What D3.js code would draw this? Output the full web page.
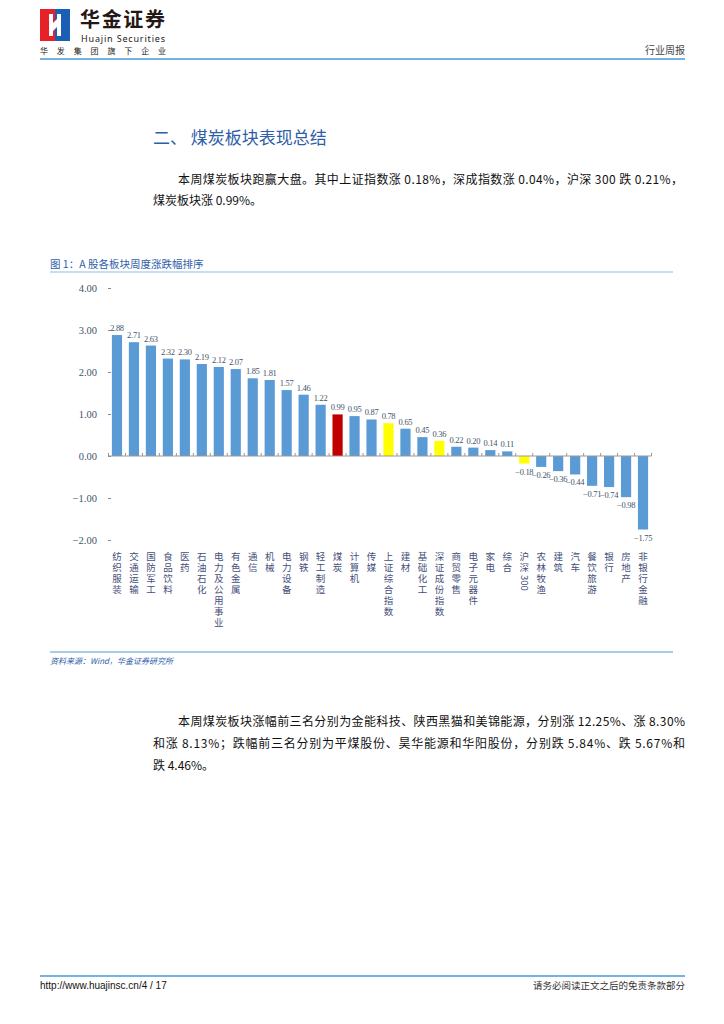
<!DOCTYPE html>
<html>
<head>
<meta charset="utf-8">
<script src="https://cdn.jsdelivr.net/npm/d3@7"></script>
<style>
  body { margin: 0; background: #fff; }
  svg { display: block; font-family: "Noto Sans CJK SC", "Noto Sans", sans-serif; }
</style>
</head>
<body>
<div id="page"></div>
<script>
// 板块周度涨跌幅 (%)
var categories = ["纺织服装","交通运输","国防军工","食品饮料","医药","石油石化","电力及公用事业","有色金属",
  "通信","机械","电力设备","钢铁","轻工制造","煤炭","计算机","传媒","上证综合指数","建材","基础化工",
  "深证成份指数","商贸零售","电子元器件","家电","综合","沪深300","农林牧渔","建筑","汽车","餐饮旅游",
  "银行","房地产","非银行金融"];
var values = [2.88,2.71,2.63,2.32,2.30,2.19,2.12,2.07,1.85,1.81,1.57,1.46,1.22,0.99,0.95,0.87,0.78,0.65,0.45,
  0.36,0.22,0.20,0.14,0.11,-0.18,-0.26,-0.36,-0.44,-0.71,-0.74,-0.98,-1.75];
var focusSector = "煤炭";
var indexNames = ["上证综合指数","深证成份指数","沪深300"];
var yTicks = [-2,-1,0,1,2,3,4];

var W = 724, H = 1024;
var svg = d3.select("#page").append("svg").attr("width", W).attr("height", H);

// ---- header ----
var logo = svg.append("g");
logo.append("rect").attr("x",40).attr("y",9).attr("width",15).attr("height",32).attr("fill","#e6212a");
logo.append("rect").attr("x",55).attr("y",9).attr("width",15).attr("height",32).attr("fill","#1a5fb4");
logo.append("path").attr("d","M49,14 L53,14 L53,23 L57,19 L57,14 L61,14 L61,36 L57,36 L57,27 L53,31 L53,36 L49,36 Z").attr("fill","#fff");
svg.append("text").attr("x",80).attr("y",27).attr("font-size",20).attr("font-weight","bold")
  .attr("fill","#231815").attr("textLength",85).text("华金证券");
svg.append("text").attr("x",81).attr("y",42).attr("font-size",9).attr("fill","#231815")
  .style("font-family","Noto Sans").attr("textLength",84).text("Huajin Securities");
svg.append("text").attr("x",40).attr("y",54).attr("font-size",8).attr("fill","#231815")
  .attr("textLength",126).attr("lengthAdjust","spacing").text("华发集团旗下企业");
svg.append("text").attr("x",685).attr("y",54).attr("font-size",10).attr("fill","#444")
  .attr("text-anchor","end").text("行业周报");
svg.append("line").attr("x1",40).attr("x2",685).attr("y1",59).attr("y2",59)
  .attr("stroke","#4a9ad6").attr("stroke-width",1.5);

// ---- section title & text ----
svg.append("text").attr("x",153).attr("y",144).attr("font-size",17).attr("fill","#2f5ea8")
  .text("二、 煤炭板块表现总结");

function para(x, y, w, s) {
  var t = svg.append("text").attr("x",x).attr("y",y).attr("font-size",12).attr("fill","#111").text(s);
  if (w) t.attr("textLength",w).attr("lengthAdjust","spacing");
}
para(178, 184, 505, "本周煤炭板块跑赢大盘。其中上证指数涨 0.18%，深成指数涨 0.04%，沪深 300 跌 0.21%，");
para(153, 205, null, "煤炭板块涨 0.99%。");

// ---- figure caption ----
svg.append("text").attr("x",50).attr("y",268).attr("font-size",10.5).attr("fill","#2f5ea8")
  .text("图 1：A 股各板块周度涨跌幅排序");
svg.append("line").attr("x1",50).attr("x2",673).attr("y1",272).attr("y2",272)
  .attr("stroke","#8dbde3").attr("stroke-width",1);

// ---- chart ----
var x = d3.scaleBand().domain(categories).range([108.5, 651.5]).paddingInner(0.4).paddingOuter(0.2);
var y = d3.scaleLinear().domain([-2, 4]).range([540, 288]);

function barColor(d) {
  if (d === focusSector) return "#c00000";
  if (indexNames.indexOf(d) >= 0) return "#ffff00";
  return "#5b9bd5";
}

var yAxis = svg.append("g").attr("transform","translate(108,0)")
  .call(d3.axisLeft(y).tickValues(yTicks).tickFormat(d3.format(".2f")).tickSize(3).tickPadding(8));
yAxis.attr("font-family", null);
yAxis.select(".domain").remove();
yAxis.selectAll(".tick line").attr("stroke","#888").attr("transform","translate(3,0)");
yAxis.selectAll(".tick text").style("font-family","Liberation Serif").attr("font-size",10.5).attr("fill","#44546a");

svg.append("g").selectAll("rect").data(categories).enter().append("rect")
  .attr("x", function(d){ return x(d); })
  .attr("width", x.bandwidth())
  .attr("y", function(d,i){ return y(Math.max(0, values[i])); })
  .attr("height", function(d,i){ return Math.abs(y(values[i]) - y(0)); })
  .attr("fill", barColor);

// x axis line with ticks at band boundaries
var step = x.step();
var bounds = d3.range(categories.length + 1).map(function(i){ return 108.5 + i * step; });
svg.append("line").attr("x1",108.5).attr("x2",651.5).attr("y1",y(0)).attr("y2",y(0)).attr("stroke","#999");
svg.append("g").selectAll("line").data(bounds).enter().append("line")
  .attr("x1", function(d){ return d; }).attr("x2", function(d){ return d; })
  .attr("y1", y(0) - 3).attr("y2", y(0)).attr("stroke","#999");

// value labels
svg.append("g").selectAll("text").data(values).enter().append("text")
  .attr("x", function(d,i){ return x(categories[i]) + x.bandwidth()/2; })
  .attr("y", function(d){ return d >= 0 ? y(d) - 4 : y(d) + 11; })
  .attr("text-anchor","middle")
  .style("font-family","Liberation Serif").attr("font-size",8.5).style("letter-spacing","-0.3px")
  .attr("fill","#44546a")
  .text(function(d){ return d3.format(".2f")(d); });

// vertical category labels (CJK stacked, latin/digits turned sideways)
var labelTop = 552, charStep = 11;
var catLabels = svg.append("g").selectAll("g").data(categories).enter().append("g");
catLabels.append("text")
  .attr("x", function(d){ return x(d) + x.bandwidth()/2; })
  .attr("y", labelTop)
  .attr("font-size",9.5).attr("fill","#46507a")
  .style("writing-mode","vertical-rl")
  .style("letter-spacing","1.5px")
  .text(function(d){ return d.replace(/[0-9A-Za-z]+$/, ""); });
catLabels.filter(function(d){ return /[0-9A-Za-z]+$/.test(d); }).append("text")
  .attr("transform", function(d){
    var cx = x(d) + x.bandwidth()/2;
    var cy = labelTop + d.replace(/[0-9A-Za-z]+$/, "").length * charStep + 1;
    return "translate(" + (cx - 3) + "," + cy + ") rotate(90)";
  })
  .attr("font-size",9.5).attr("fill","#46507a")
  .text(function(d){ return d.match(/[0-9A-Za-z]+$/)[0]; });

// source
svg.append("line").attr("x1",50).attr("x2",673).attr("y1",652).attr("y2",652)
  .attr("stroke","#a9cde9").attr("stroke-width",2);
svg.append("text").attr("x",50).attr("y",664).attr("font-size",8).attr("font-style","italic")
  .attr("fill","#2f5ea8").text("资料来源：Wind，华金证券研究所");

// ---- second paragraph ----
para(178, 726, 507, "本周煤炭板块涨幅前三名分别为金能科技、陕西黑猫和美锦能源，分别涨 12.25%、涨 8.30%");
para(153, 748, 532, "和涨 8.13%；跌幅前三名分别为平煤股份、昊华能源和华阳股份，分别跌 5.84%、跌 5.67%和");
para(153, 770, null, "跌 4.46%。");

// ---- footer ----
svg.append("line").attr("x1",40).attr("x2",685).attr("y1",976).attr("y2",976)
  .attr("stroke","#4a9ad6").attr("stroke-width",1.5);
svg.append("text").attr("x",40).attr("y",989).attr("font-size",10).style("font-family","Liberation Sans")
  .attr("fill","#111").text("http://www.huajinsc.cn/4 / 17");
svg.append("text").attr("x",685).attr("y",989).attr("font-size",9.5).attr("fill","#333")
  .attr("text-anchor","end").text("请务必阅读正文之后的免责条款部分");
</script>
</body>
</html>
